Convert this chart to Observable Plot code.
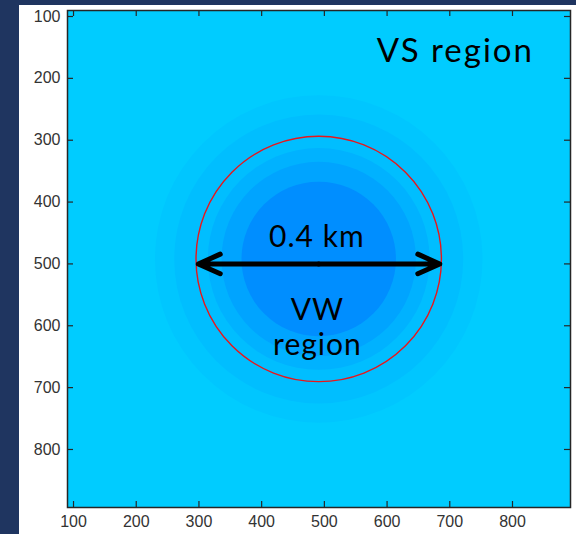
<!DOCTYPE html>
<html>
<head>
<meta charset="utf-8">
<script src="https://cdn.jsdelivr.net/npm/d3@7"></script>
<script src="https://cdn.jsdelivr.net/npm/@observablehq/plot@0.6"></script>
<style>
  html, body { margin: 0; padding: 0; }
  body { width: 576px; height: 534px; background: #1f3560; position: relative; overflow: hidden; }
  #panel { position: absolute; left: 19px; top: 5px; width: 557px; height: 529px; background: #ffffff; }
  #panel svg { display: block; }
  g[font-family="Lato"] text { letter-spacing: 1px; }
  g[font-family="Lato"][font-size="33"] text { letter-spacing: 2px; }
  g[aria-label="x-axis tick label"] text, g[aria-label="y-axis tick label"] text { font-size: 16px; }
</style>
</head>
<body>
<div id="panel"></div>
<script>
// Grid coordinates (m) of the low-velocity anomaly centre
const centerX = [491];
const centerY = [492];

// Concentric shading levels of the velocity field, outermost first
const levelRadius = [263, 232, 178, 156, 124];
const levelColor = ["#00c6ff", "#00beff", "#00b2ff", "#00a4ff", "#008eff"];

// Boundary of the VW region
const vwRadius = [197];

// Scale bar across the VW region
const barStart = [299];
const barEnd = [684];
const barY = [500];

// Axis ticks
const xTicks = [100, 200, 300, 400, 500, 600, 700, 800];
const yTicks = [100, 200, 300, 400, 500, 600, 700, 800];

// Region labels
const outerText = ["VS region"];
const outerX = [709];
const outerY = [174];
const innerText = ["0.4 km", "VW\nregion"];
const innerX = [488, 489];
const innerY = [472, 648];

const levels = levelRadius.map((r, i) => ({x: centerX[0], y: centerY[0], r, color: levelColor[i]}));
const boundary = vwRadius.map((r) => ({x: centerX[0], y: centerY[0], r}));
const bar = [
  {x1: centerX[0], x2: barStart[0], y: barY[0]},
  {x1: centerX[0], x2: barEnd[0], y: barY[0]}
];
const outerLabels = outerText.map((t, i) => ({text: t, x: outerX[i], y: outerY[i]}));
const innerLabels = innerText.map((t, i) => ({text: t, x: innerX[i], y: innerY[i]}));

const W = 557, H = 529;
const mL = 48, mR = 6, mT = 5, mB = 27;
const plotW = W - mL - mR, plotH = H - mT - mB;
const tick = 6;
const xDomain = [90.4, 892.5];
const yDomain = [90.3, 893.8];
const pxPerUnit = (plotW / (xDomain[1] - xDomain[0]) + plotH / (yDomain[1] - yDomain[0])) / 2;

const chart = Plot.plot({
  width: W,
  height: H,
  marginLeft: mL,
  marginRight: mR,
  marginTop: mT,
  marginBottom: mB,
  style: {background: "#ffffff", fontFamily: "'Liberation Sans', Arial, Helvetica, sans-serif", fontSize: "16px"},
  x: {domain: xDomain, label: null},
  y: {domain: yDomain, reverse: true, label: null},
  r: {type: "linear", domain: [0, 100], range: [0, 100 * pxPerUnit]},
  color: {type: "identity"},
  marks: [
    Plot.frame({fill: "#00ccff", stroke: null}),
    Plot.dot(levels, {x: "x", y: "y", r: "r", fill: "color", stroke: null, sort: null}),
    Plot.dot(boundary, {x: "x", y: "y", r: "r", fill: "none", stroke: "#e8161b", strokeWidth: 1.4}),
    Plot.arrow(bar, {
      x1: "x1", y1: "y", x2: "x2", y2: "y",
      stroke: "#000000", strokeWidth: 5, headLength: 7.2, headAngle: 48,
      strokeLinecap: "round", strokeLinejoin: "round"
    }),
    Plot.text(innerLabels, {
      x: "x", y: "y", text: "text", lineAnchor: "bottom", lineHeight: 1.17,
      fontFamily: "Lato", fontSize: 30, fill: "#000000"
    }),
    Plot.text(outerLabels, {
      x: "x", y: "y", text: "text", lineAnchor: "bottom",
      fontFamily: "Lato", fontSize: 33, fill: "#000000"
    }),
    // inward ticks on all four sides
    Plot.tickX(xTicks, {x: (d) => d, insetTop: plotH - tick, stroke: "#262626", strokeWidth: 1.2}),
    Plot.tickX(xTicks, {x: (d) => d, insetBottom: plotH - tick, stroke: "#262626", strokeWidth: 1.2}),
    Plot.tickY(yTicks, {y: (d) => d, insetRight: plotW - tick, stroke: "#262626", strokeWidth: 1.2}),
    Plot.tickY(yTicks, {y: (d) => d, insetLeft: plotW - tick, stroke: "#262626", strokeWidth: 1.2}),
    Plot.axisX({ticks: xTicks, tickSize: 0, tickPadding: 8, fontSize: 16, fill: "#333333", label: null}),
    Plot.axisY({ticks: yTicks, tickSize: 0, tickPadding: 7, fontSize: 16, fill: "#333333", label: null}),
    Plot.frame({stroke: "#262626", strokeWidth: 1.5})
  ]
});

document.getElementById("panel").appendChild(chart);
</script>
</body>
</html>
